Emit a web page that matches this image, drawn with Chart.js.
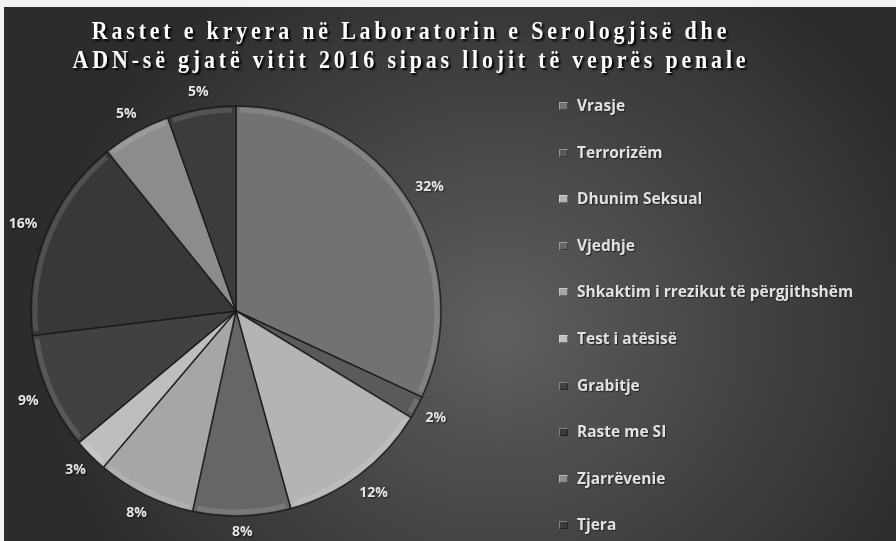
<!DOCTYPE html>
<html>
<head>
<meta charset="utf-8">
<script src="https://cdn.jsdelivr.net/npm/chart.js@4"></script>
<style>
  body { margin: 0; background: #fff; }
  #wrap {
    position: relative; width: 896px; height: 541px; overflow: hidden;
    background: radial-gradient(ellipse 460px 420px at 500px 330px, #5f5f5f 0%, #474747 45%, #2c2c2c 100%);
  }
  #wrap::before { content: ''; position: absolute; left: 0; top: 0; width: 896px; height: 7px; background: #f3f3f3; z-index: 3; }
  #wrap::after  { content: ''; position: absolute; left: 0; top: 0; width: 4px; height: 541px; background: #f3f3f3; z-index: 3; }
  canvas { position: absolute; left: 0; top: 0; }
  .title {
    position: absolute; left: 0; width: 822px; text-align: center;
    font: bold 22px "Liberation Serif", serif; color: #fff; letter-spacing: 3.8px;
    white-space: pre; transform: scaleY(1.1);
    text-shadow: 2px 2px 2px #000;
  }
  #legend { position: absolute; left: 559px; top: 94px; margin: 0; padding: 0; list-style: none; }
  #legend li {
    height: 46.6px; line-height: 46.6px; font: bold 15.5px "Open Sans", sans-serif;
    color: #e2e2e2; white-space: nowrap; text-shadow: 1px 1px 1px #222;
  }
  #legend span.box {
    display: inline-block; width: 9px; height: 8px; margin-right: 9px; vertical-align: 1px;
    box-shadow: inset 1px 1px 0 rgba(255,255,255,0.35), inset -1px -1px 0 rgba(0,0,0,0.4);
  }
</style>
</head>
<body>
<div id="wrap">
  <canvas id="pie" width="896" height="541"></canvas>
  <div class="title" style="top:18px">Rastet e kryera në Laboratorin e Serologjisë dhe</div>
  <div class="title" style="top:47px">ADN-së gjatë vitit 2016 sipas llojit të veprës penale</div>
  <ul id="legend"></ul>
</div>
<script>
// --- data (percent of cases) ---
const categories = [
  'Vrasje', 'Terrorizëm', 'Dhunim Seksual', 'Vjedhje',
  'Shkaktim i rrezikut të përgjithshëm', 'Test i atësisë',
  'Grabitje', 'Raste me SI', 'Zjarrëvenie', 'Tjera'
];
const shares = [31.9, 1.8, 12.0, 7.7, 7.8, 2.7, 9.2, 16.1, 5.4, 5.4];

// grey palette, one per slice
const sliceColors = [
  '#727272', '#5a5a5a', '#b4b4b4', '#666666', '#a6a6a6',
  '#bebebe', '#414141', '#383838', '#8c8c8c', '#3c3c3c'
];

// html legend built from the same arrays
const legendEl = document.getElementById('legend');
categories.forEach((name, i) => {
  const li = document.createElement('li');
  li.innerHTML = '<span class="box" style="background:' + sliceColors[i] + '"></span>' + name;
  legendEl.appendChild(li);
});

// soft bevel: light rim just inside each slice's outer edge
const bevel = {
  id: 'bevel',
  afterDatasetsDraw(chart) {
    const ctx = chart.ctx;
    chart.getDatasetMeta(0).data.forEach(arc => {
      const p = arc.getProps(['x', 'y', 'startAngle', 'endAngle', 'outerRadius'], true);
      ctx.save();
      ctx.beginPath();
      ctx.arc(p.x, p.y, p.outerRadius - 4, p.startAngle + 0.02, p.endAngle - 0.02);
      ctx.strokeStyle = 'rgba(255,255,255,0.12)';
      ctx.lineWidth = 5;
      ctx.stroke();
      ctx.restore();
    });
  }
};

// percent labels just outside each slice
const pctLabels = {
  id: 'pctLabels',
  afterDatasetsDraw(chart) {
    const ctx = chart.ctx;
    const meta = chart.getDatasetMeta(0);
    const total = shares.reduce((a, b) => a + b, 0);
    ctx.save();
    ctx.font = 'bold 14px "Open Sans", sans-serif';
    ctx.fillStyle = '#e6e6e6';
    ctx.textAlign = 'center';
    ctx.textBaseline = 'middle';
    ctx.shadowColor = 'rgba(0,0,0,0.6)';
    ctx.shadowBlur = 2;
    ctx.shadowOffsetX = 1;
    ctx.shadowOffsetY = 1;
    meta.data.forEach((arc, i) => {
      const p = arc.getProps(['x', 'y', 'startAngle', 'endAngle', 'outerRadius'], true);
      const mid = (p.startAngle + p.endAngle) / 2;
      const text = Math.round(shares[i] / total * 100) + '%';
      const w = ctx.measureText(text).width, h = 14;
      const cx = Math.cos(mid), sy = Math.sin(mid);
      const d = p.outerRadius + 9 + Math.abs(cx) * w / 2 + Math.abs(sy) * h / 2;
      ctx.fillText(text, p.x + cx * d, p.y + sy * d);
    });
    ctx.restore();
  }
};

new Chart(document.getElementById('pie'), {
  type: 'pie',
  data: {
    labels: categories,
    datasets: [{
      data: shares,
      backgroundColor: sliceColors,
      borderColor: 'rgba(25,25,25,0.85)',
      borderWidth: 1.5,
      hoverOffset: 0
    }]
  },
  options: {
    responsive: false,
    animation: false,
    radius: 205,
    layout: { padding: { left: 31, right: 455, top: 106, bottom: 25 } },
    plugins: {
      legend: { display: false },
      tooltip: { enabled: false }
    }
  },
  plugins: [bevel, pctLabels]
});
</script>
</body>
</html>
